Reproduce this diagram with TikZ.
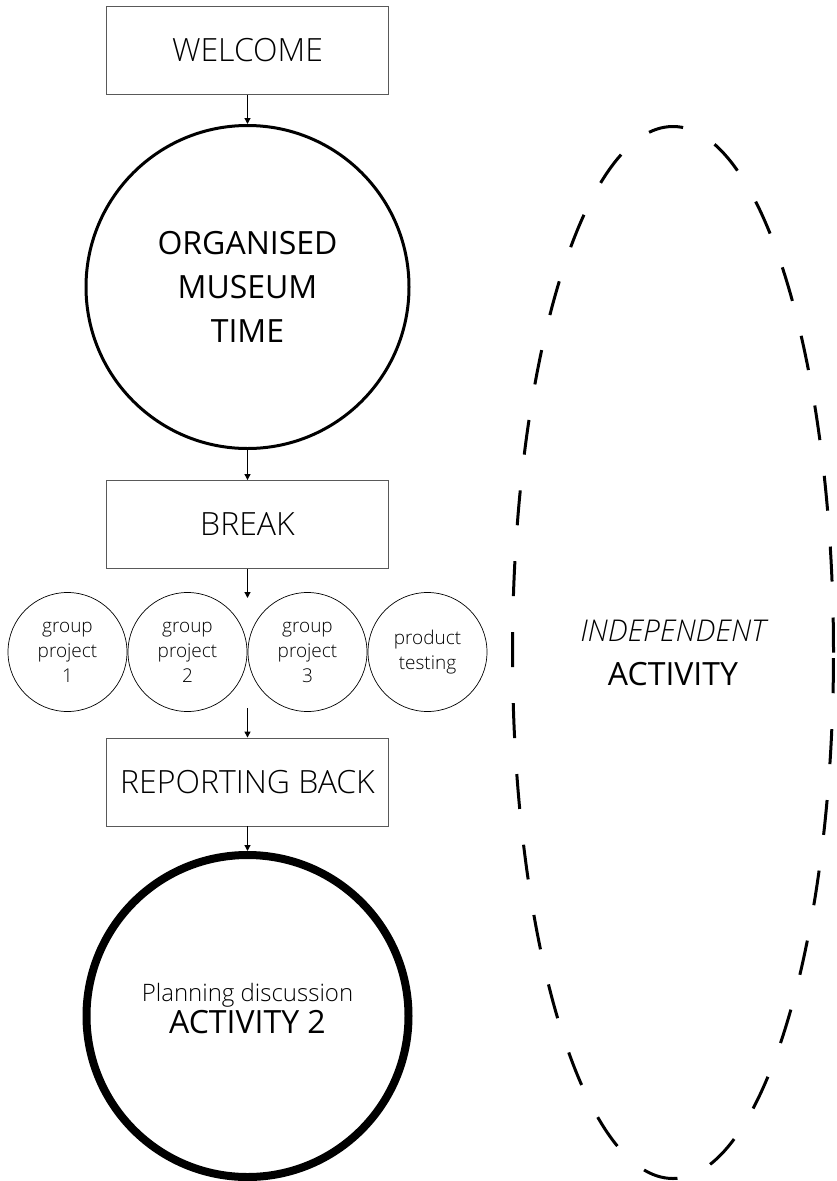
\documentclass[tikz,border=0pt]{standalone}
\usepackage{fontspec}
\setmainfont{Open Sans}
\IfFontExistsTF{Open Sans Light}{\newfontfamily\lightfont{Open Sans Light}}{\newfontfamily\lightfont{Open Sans}}
\usetikzlibrary{arrows.meta,shapes.geometric}
\tikzset{
stagebox/.style={draw=black!65,line width=0.9pt,minimum width=282pt,minimum height=88pt,inner sep=0pt,font=\lightfont\fontsize{32}{38}\selectfont},
bigcircle/.style={circle,draw,align=center,inner sep=0pt},
pjcircle/.style={circle,draw,line width=0.7pt,minimum size=119pt,inner sep=0pt,align=center,font=\lightfont\fontsize{19}{25}\selectfont},
flow/.style={->,line width=1.2pt}
}
\begin{document}
\begin{tikzpicture}[>={Triangle[length=6pt,width=6pt]},x=1pt,y=-1pt]
\useasboundingbox (0,0) rectangle (837,1181);
% main column
\node[stagebox] (welcome) at (247.5,50.5) {WELCOME};
\node[bigcircle,line width=3pt,minimum size=323pt,font=\fontsize{32}{44}\selectfont] (museum) at (247.5,287) {ORGANISED\\MUSEUM\\TIME};
\node[stagebox] (break) at (247.5,524.5) {BREAK};
\foreach \i/\t in {1/{group\\project\\1},2/{group\\project\\2},3/{group\\project\\3},4/{product\\testing}}{
\node[pjcircle] (gp\i) at (67.5+120*\i-120,652) {\t};
}
\coordinate (gpin) at (247.5,598);
\coordinate (gpout) at (247.5,708);
\node[stagebox] (report) at (247.5,782) {REPORTING BACK};
\node[bigcircle,line width=8pt,minimum size=322pt,text depth=16pt,font=\fontsize{32}{32}\selectfont] (act2) at (247.5,1016) {{\lightfont\fontsize{24}{28}\selectfont Planning discussion}\\ACTIVITY 2};
% side activity
\node[ellipse,draw,line width=3pt,dash pattern=on 35pt off 36pt,minimum width=321pt,minimum height=1052pt,align=center,font=\fontsize{32}{44}\selectfont] (indep) at (673,652.5) {{\lightfont\itshape\fontsize{30}{44}\selectfont INDEPENDENT}\\ACTIVITY};
\draw[flow] (welcome) -- (museum);
\draw[flow] (museum) -- (break);
\draw[flow] (break) -- (gpin);
\draw[flow] (gpout) -- (report);
\draw[flow] (report) -- (act2);
\end{tikzpicture}
\end{document}
